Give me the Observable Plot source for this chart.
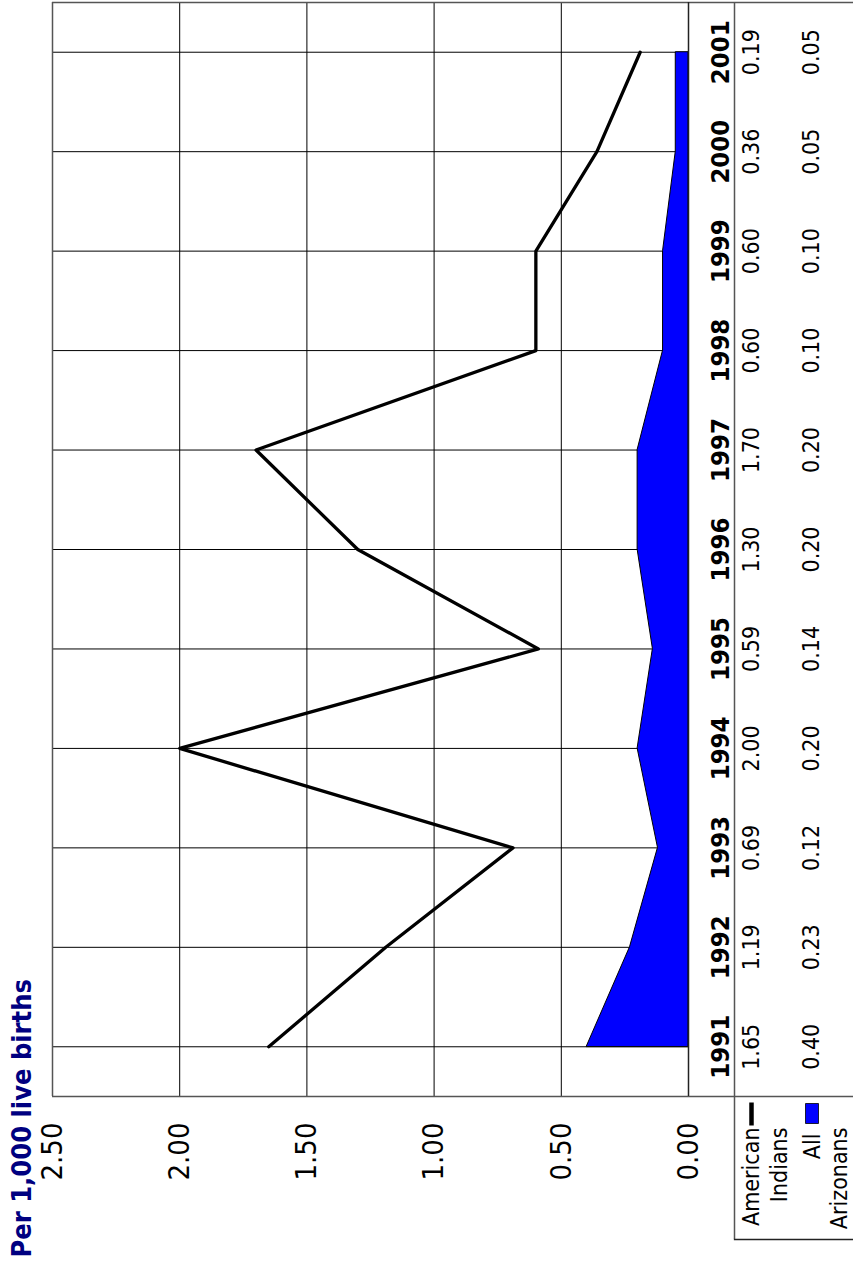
<!DOCTYPE html>
<html>
<head>
<meta charset="utf-8">
<script src="https://cdn.jsdelivr.net/npm/d3@7"></script>
<script src="https://cdn.jsdelivr.net/npm/@observablehq/plot@0.6"></script>
<style>
  body { margin: 0; background: #fff; }
  svg { display: block; }
  svg text { font-stretch: condensed; }
</style>
</head>
<body>
<div id="chart"></div>
<script>
// ---- data ----
const years = [1991, 1992, 1993, 1994, 1995, 1996, 1997, 1998, 1999, 2000, 2001];
const americanIndians = [1.65, 1.19, 0.69, 2.00, 0.59, 1.30, 1.70, 0.60, 0.60, 0.36, 0.19];
const allArizonans = [0.40, 0.23, 0.12, 0.20, 0.14, 0.20, 0.20, 0.10, 0.10, 0.05, 0.05];
const valueTicks = [0, 0.5, 1, 1.5, 2, 2.5];
const gridValues = [0.5, 1, 1.5, 2];
const yAxisTitle = "Per 1,000 live births";
const legendLabels = ["American", "Indians", "All", "Arizonans"];

// ---- derived ----
const rows = years.map((year, i) => ({year, ai: americanIndians[i], az: allArizonans[i]}));
const yLo = years[0] - 0.5, yHi = years[years.length - 1] + 0.5;
const bandEdges = years.slice(1).map(y => y - 0.5);
const fmt = d3.format(".2f");
const xMax = valueTicks[valueTicks.length - 1];

const lineSym = {draw(ctx) { ctx.moveTo(0, -11.5); ctx.lineTo(0, 11.5); }};
const rectSym = {draw(ctx) { ctx.rect(-6.5, -10, 13, 20); }};

const at0 = {x: () => 0, y: () => yLo};       // corner: zero value, bottom of plot
const atLeft = {x: () => xMax, y: () => yLo};  // corner: left bottom of plot
const one = [null];

const chart = Plot.plot({
  width: 853,
  height: 1264,
  marginLeft: 52,
  marginRight: 0,
  marginTop: 2,
  marginBottom: 25,
  style: {fontFamily: "'DejaVu Sans Condensed', 'DejaVu Sans', Verdana, sans-serif", background: "#fff"},
  x: {domain: [0, xMax], range: [688, 52], axis: null},
  y: {domain: [yLo, yHi], range: [1096, 2], axis: null},
  marks: [
    // grid
    Plot.ruleX(gridValues, {y1: yLo, y2: yHi, stroke: "#000", strokeWidth: 1}),
    Plot.ruleY(years, {x1: 0, x2: xMax, stroke: "#000", strokeWidth: 1}),
    // area (All Arizonans)
    Plot.areaX(rows, {y: "year", x1: 0, x2: "az", fill: "#0000ff", stroke: "#000", strokeWidth: 1}),
    // line (American Indians)
    Plot.line(rows, {x: "ai", y: "year", stroke: "#000", strokeWidth: 3.3}),
    // plot borders
    Plot.ruleX([xMax], {y1: yLo, y2: yHi, stroke: "#555", strokeWidth: 1.5}),
    Plot.ruleY([yHi], {stroke: "#555", strokeWidth: 1.5}),
    Plot.ruleY([yLo], {stroke: "#555", strokeWidth: 1.5}),
    Plot.ruleX([0], {y1: yLo, y2: yHi, stroke: "#222", strokeWidth: 1.5}),
    // table borders
    Plot.ruleX([0], {dx: 46, stroke: "#555", strokeWidth: 1.5}),
    Plot.ruleY(bandEdges, {x1: 0, stroke: "#222", strokeWidth: 1.3}),
    Plot.frame({anchor: "bottom", insetLeft: 682, stroke: "#222", strokeWidth: 1.3}),
    // value tick labels
    Plot.text(valueTicks, {x: d => d, y: () => yLo, dy: 55, text: d => fmt(d), rotate: -90,
      textAnchor: "middle", lineAnchor: "middle", fontSize: 29, fill: "#000"}),
    // axis title
    Plot.text([yAxisTitle], {...atLeft, dx: -30, dy: 161, rotate: -90, textAnchor: "start",
      lineAnchor: "middle", fontSize: 27, fontWeight: "bold", fill: "#000080"}),
    // table: years and values
    Plot.text(rows, {x: () => 0, y: "year", dx: 32, text: d => String(d.year), rotate: -90,
      textAnchor: "middle", lineAnchor: "middle", fontSize: 25.5, fontWeight: "bold", fill: "#000"}),
    Plot.text(rows, {x: () => 0, y: "year", dx: 63.5, text: d => fmt(d.ai), rotate: -90,
      textAnchor: "middle", lineAnchor: "middle", fontSize: 23, fill: "#000"}),
    Plot.text(rows, {x: () => 0, y: "year", dx: 123.5, text: d => fmt(d.az), rotate: -90,
      textAnchor: "middle", lineAnchor: "middle", fontSize: 23, fill: "#000"}),
    // legend
    Plot.dot(one, {...at0, dx: 63, dy: 17.5, symbol: lineSym, stroke: "#000", strokeWidth: 4.5, fill: "none", r: 5}),
    Plot.dot(one, {...at0, dx: 123.5, dy: 17, symbol: rectSym, fill: "#0000ff", stroke: "#000", strokeWidth: 0.8, r: 5}),
    Plot.text([legendLabels[0]], {...at0, dx: 63.5, dy: 31, rotate: -90, textAnchor: "end", lineAnchor: "middle", fontSize: 23, fill: "#000"}),
    Plot.text([legendLabels[1]], {...at0, dx: 91.5, dy: 31, rotate: -90, textAnchor: "end", lineAnchor: "middle", fontSize: 23, fill: "#000"}),
    Plot.text([legendLabels[2]], {...at0, dx: 124.5, dy: 37, rotate: -90, textAnchor: "end", lineAnchor: "middle", fontSize: 23, fill: "#000"}),
    Plot.text([legendLabels[3]], {...at0, dx: 151.5, dy: 31, rotate: -90, textAnchor: "end", lineAnchor: "middle", fontSize: 23, fill: "#000"})
  ]
});
document.getElementById("chart").appendChild(chart);
</script>
</body>
</html>
